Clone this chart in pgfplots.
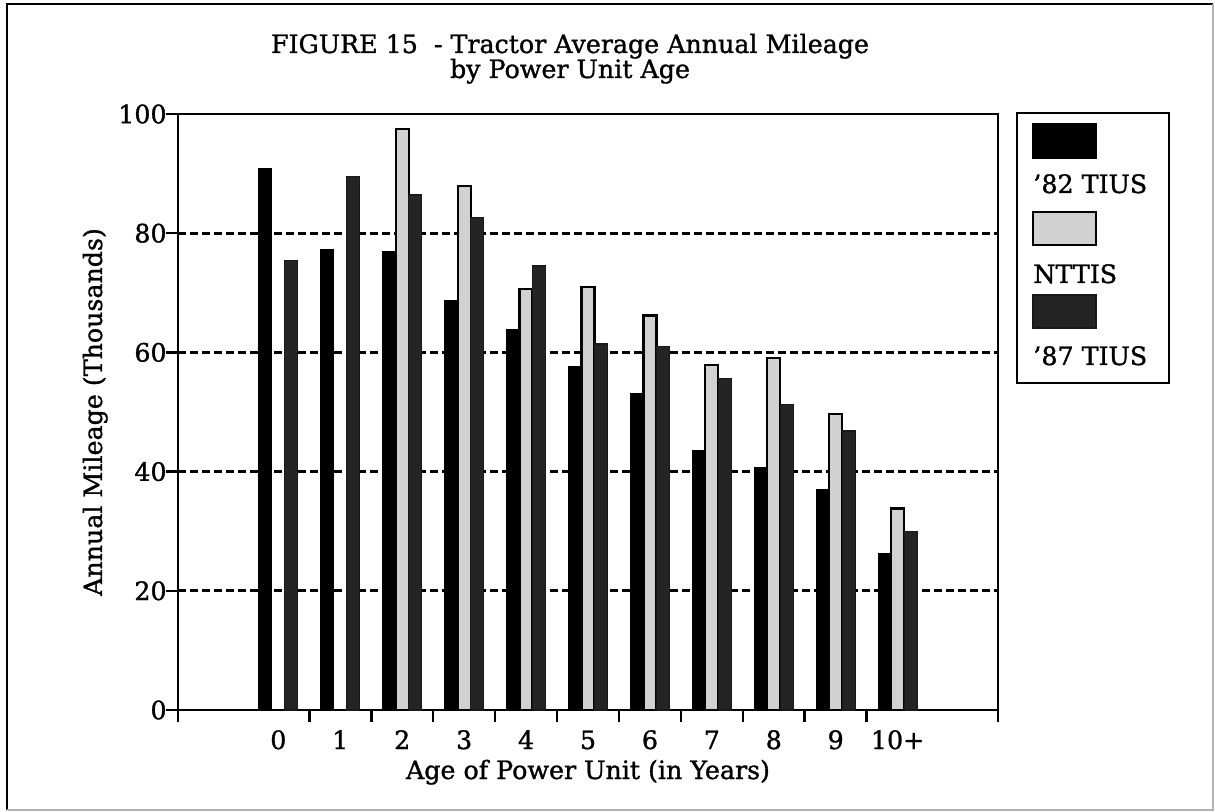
\documentclass[border=0pt]{standalone}
\usepackage{pgfplots}
\pgfplotsset{compat=1.18}
\usepackage{fontspec}
\setmainfont{DejaVu Serif}[FakeBold=1.2]
\tikzset{
  sA/.style={fill=black, draw=black, line width=0.6bp},
  sN/.style={fill=black!18, draw=black, line width=1.1bp},
  sB/.style={fill=black!86, draw=black!90, line width=0.6bp},
}
\begin{document}
\begin{tikzpicture}[font=\fontsize{12.7}{15}\selectfont]
\path[use as bounding box] (-89bp,-51bp) rectangle (518.5bp,355bp);
\begin{axis}[
  at={(0,0)}, anchor=south west, scale only axis,
  width=410bp, height=298bp,
  ybar, bar width=0.21,
  xmin=-1.62, xmax=11.62, ymin=0, ymax=100,
  xtick={-1.62,0.5,1.5,2.5,3.5,4.5,5.5,6.5,7.5,8.5,9.5,11.62},
  xticklabels={},
  extra x ticks={0,1,2,3,4,5,6,7,8,9,10},
  extra x tick labels={0,1,2,3,4,5,6,7,8,9,10+},
  extra x tick style={major tick length=0pt,
    tick label style={anchor=base, inner sep=0pt, yshift=-19.5bp}},
  ytick={0,20,40,60,80,100},
  xtick pos=bottom, ytick pos=left,
  tick align=outside, major tick length=6bp,
  every tick/.style={black, line width=1.3bp},
  yticklabel style={anchor=east, inner sep=0pt, xshift=0.5bp},
  /pgf/number format/assume math mode=true,
  axis line style={line width=1.3bp},
  ymajorgrids,
  major grid style={black, line width=1.4bp, dash pattern=on 4bp off 2bp},
  every axis x label/.style={at={(axis description cs:0.5,0)}, anchor=base, yshift=-34.5bp},
  every axis y label/.style={at={(axis description cs:-0.101,0.5)}, rotate=90, anchor=center},
  xlabel={Age of Power Unit (in Years)},
  ylabel={Annual Mileage (Thousands)},
]
\addplot[bar shift=-0.21, sA] coordinates {(0,90.8)(1,77.3)(2,76.9)(3,68.7)(4,63.9)(5,57.6)(6,53.1)(7,43.5)(8,40.7)(9,36.9)(10,26.3)};
\addplot[bar shift=0, sN] coordinates {(2,97.5)(3,87.9)(4,70.6)(5,71.0)(6,66.2)(7,57.9)(8,59.0)(9,49.7)(10,33.8)};
\addplot[bar shift=0.21, sB] coordinates {(0,75.4)(1,89.5)(2,86.4)(3,82.7)(4,74.5)(5,61.4)(6,61.0)(7,55.6)(8,51.2)(9,46.8)(10,30.0)};
\end{axis}
% outer frame
\draw[line width=1bp] (-85.5bp,-50bp) -- (-85.5bp,353bp) -- (517.5bp,353bp);
\draw[gray!60, line width=0.6bp] (517.5bp,353bp) -- (517.5bp,-50bp) -- (-85.5bp,-50bp);
% title
\node[anchor=base, inner sep=0pt] at (196bp,328.5bp) {FIGURE 15\ \ - Tractor Average Annual Mileage};
\node[anchor=base, inner sep=0pt] at (196bp,316bp) {by Power Unit Age};
% legend
\draw[line width=1bp] (419.5bp,163.5bp) rectangle (495.5bp,298.5bp);
\draw[sA] (427.5bp,276bp) rectangle (459bp,293bp);
\node[anchor=base west, inner sep=0pt] at (427.5bp,258.5bp) {'82 TIUS};
\draw[sN] (427.5bp,232.5bp) rectangle (459bp,249bp);
\node[anchor=base west, inner sep=0pt] at (427.5bp,213.5bp) {NTTIS};
\draw[sB] (427.5bp,191bp) rectangle (459bp,207.5bp);
\node[anchor=base west, inner sep=0pt] at (427.5bp,172.5bp) {'87 TIUS};
\end{tikzpicture}
\end{document}
